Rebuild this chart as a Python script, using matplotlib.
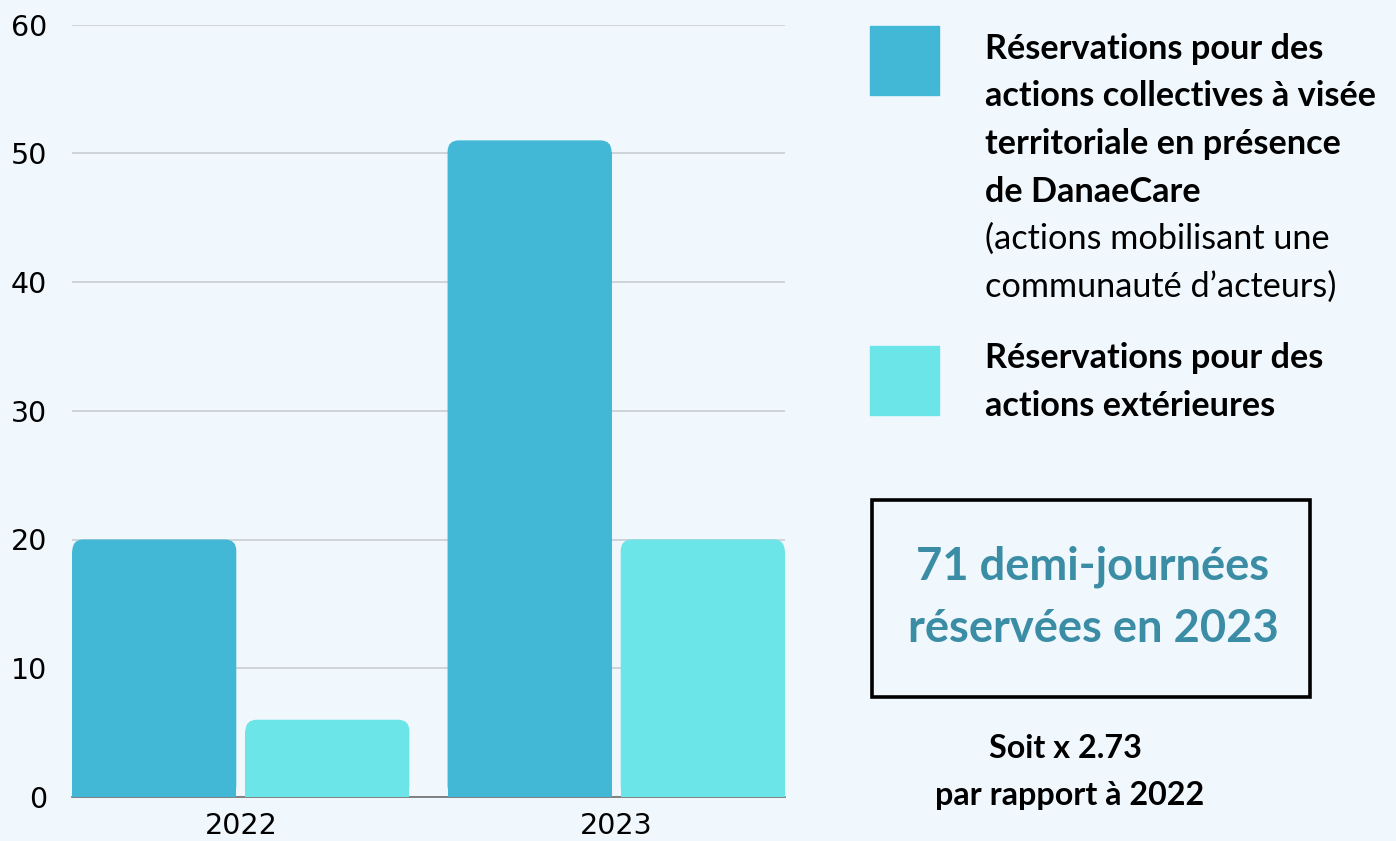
import matplotlib.pyplot as plt
from matplotlib.patches import FancyBboxPatch, Rectangle

years = ['2022', '2023']
collectives = [20, 51]
exterieures = [6, 20]
yticks = [0, 10, 20, 30, 40, 50, 60]

legend1_bold = ['Réservations pour des', 'actions collectives à visée',
                'territoriale en présence', 'de DanaeCare']
legend1_regular = ['(actions mobilisant une', 'communauté d\u2019acteurs)']
legend2_bold = ['Réservations pour des', 'actions extérieures']
box_lines = ['71 demi-journées', 'réservées en 2023']
ratio_lines = ['Soit x 2.73', 'par rapport à 2022']

bg = '#F0F7FD'
c1 = '#42B8D6'
c2 = '#6CE5E9'
teal = '#3A8DA5'

W, H = 1396, 841
fig = plt.figure(figsize=(W / 100, H / 100), dpi=100, facecolor=bg)


def fx(px):
    return px / W


def fy(py):
    return 1 - py / H


ax = fig.add_axes([fx(72), fy(797), fx(785) - fx(72), fy(24.5) - fy(797)])
ax.set_facecolor(bg)
ax.set_xlim(-0.45, 1.45)
ax.set_ylim(0, 60)

# bars with rounded tops
width = 0.437
offset = 0.2307
xs = list(range(len(years)))
r_x = 0.03
aspect = (60 / (797 - 24.5)) / (1.9 / (785 - 72))
r_y = r_x * aspect
for vals, sign, col in [(collectives, -1, c1), (exterieures, 1, c2)]:
    bars = ax.bar([x + sign * offset for x in xs], [v - r_y for v in vals],
                  width=width, color=col, zorder=3)
    for b, v in zip(bars, vals):
        ax.add_patch(FancyBboxPatch((b.get_x(), 0), b.get_width(), v,
                                    boxstyle=f'round,pad=0,rounding_size={r_x}',
                                    mutation_aspect=aspect, facecolor=col,
                                    edgecolor='none', zorder=3))

ax.set_yticks(yticks)
ax.set_yticklabels([str(t) for t in yticks])
ax.set_xticks(xs)
ax.set_xticklabels(years)
ax.tick_params(axis='y', length=0, pad=18)
ax.tick_params(axis='x', length=0, pad=11)
for lab in ax.get_xticklabels() + ax.get_yticklabels():
    lab.set_family('DejaVu Sans')
    lab.set_fontsize(20.5)
    lab.set_color('black')
ax.grid(axis='y', color='#C8CDD2', linewidth=1.2, zorder=1)
for s in ['top', 'right', 'left']:
    ax.spines[s].set_visible(False)
ax.spines['bottom'].set_color('#6E6E6E')
ax.spines['bottom'].set_linewidth(1.2)
ax.spines['bottom'].set_zorder(2)

# legend
fig.patches.append(Rectangle((fx(870), fy(95)), fx(69), fy(26) - fy(95),
                             transform=fig.transFigure, color=c1))
fig.patches.append(Rectangle((fx(870), fy(415)), fx(69), fy(346) - fy(415),
                             transform=fig.transFigure, color=c2))

lato = ['Lato', 'DejaVu Sans']
step = 47.5
y = 59
for line in legend1_bold:
    fig.text(fx(985), fy(y), line, fontsize=24.7, fontweight='bold',
             family=lato, va='baseline', ha='left')
    y += step
for line in legend1_regular:
    fig.text(fx(985), fy(y), line, fontsize=24.7, family=lato,
             va='baseline', ha='left')
    y += step
y = 368
for line in legend2_bold:
    fig.text(fx(985), fy(y), line, fontsize=24.7, fontweight='bold',
             family=lato, va='baseline', ha='left')
    y += step

# highlight box
fig.patches.append(Rectangle((fx(872), fy(697)), fx(1310) - fx(872), fy(500) - fy(697),
                             transform=fig.transFigure, facecolor='none',
                             edgecolor='black', linewidth=2.6))
for line, yb in zip(box_lines, [580, 642]):
    fig.text(fx(1093), fy(yb), line, fontsize=32.6, fontweight='bold', color=teal,
             family=lato, va='baseline', ha='center')

for line, yb, xc in zip(ratio_lines, [758, 805], [1065, 1070]):
    fig.text(fx(xc), fy(yb), line, fontsize=23.2, fontweight='bold',
             family=lato, va='baseline', ha='center')

fig.savefig('out.png', dpi=100, facecolor=bg)
